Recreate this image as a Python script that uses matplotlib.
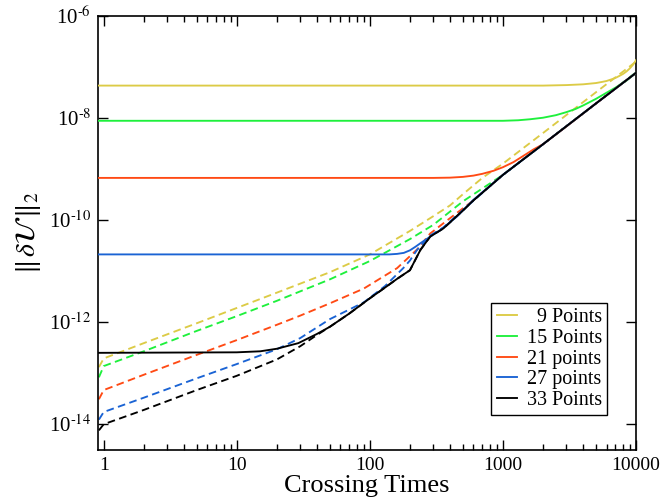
import numpy as np
import matplotlib
matplotlib.use("Agg")
import matplotlib.pyplot as plt
from matplotlib.ticker import FixedLocator, FixedFormatter, NullFormatter, NullLocator

plt.rcParams['font.family'] = ['Liberation Serif', 'DejaVu Serif']
plt.rcParams['mathtext.fontset'] = 'stix'
plt.rcParams['axes.unicode_minus'] = False
plt.rcParams['lines.scale_dashes'] = False

# ---- data: crossing times and log10 of the L2 error ----
# solid curves
t_9s = [0.92, 100, 1000, 2000, 3000, 4000, 5000, 5500, 6000, 6500, 7000, 7500, 8000, 8500, 9000, 9500, 10000]
e_9s = [-7.37, -7.37, -7.37, -7.37, -7.36, -7.345, -7.32, -7.30, -7.28, -7.25, -7.22, -7.18, -7.14,
        -7.09, -7.03, -6.96, -6.87]

t_15s = [0.92, 1000, 1300, 1600, 2000, 2500, 3000, 3500, 4000, 5000, 6000, 7000, 8500, 10000]
e_15s = [-8.06, -8.06, -8.05, -8.03, -8.00, -7.95, -7.89, -7.83, -7.76, -7.63, -7.51, -7.41, -7.27, -7.12]

t_21s = [0.92, 300, 400, 500, 600, 700, 850, 1000, 1200, 1400, 1700, 2000, 3000, 5000, 10000]
e_21s = [-9.18, -9.18, -9.175, -9.16, -9.135, -9.10, -9.04, -8.97, -8.87, -8.76, -8.62, -8.52, -8.17,
         -7.72, -7.12]

t_27s = [0.92, 100, 140, 160, 180, 200, 220, 240, 270, 300, 340, 450, 600, 1000, 2000, 5000, 10000]
e_27s = [-10.68, -10.68, -10.68, -10.67, -10.65, -10.60, -10.53, -10.46, -10.37, -10.29, -10.20, -9.94,
         -9.61, -9.12, -8.52, -7.72, -7.12]

t_33s = [0.92, 10, 15, 20, 29, 40, 50, 70, 100, 130, 160, 200, 240, 284, 357, 500, 600, 1000, 2000, 5000, 10000]
e_33s = [-12.61, -12.60, -12.58, -12.53, -12.42, -12.24, -12.10, -11.84, -11.54, -11.33, -11.16, -10.99,
         -10.59, -10.33, -10.17, -9.82, -9.62, -9.12, -8.52, -7.72, -7.12]

# dashed curves
t_9d = [0.92, 1, 2, 5, 10, 20, 50, 100, 200, 300, 400, 500, 700, 1000, 2000, 5000, 10000]
e_9d = [-12.89, -12.72, -12.42, -12.03, -11.73, -11.43, -11.03, -10.68, -10.22, -9.93, -9.72, -9.50,
        -9.18, -8.90, -8.30, -7.50, -6.90]

t_15d = [0.92, 1, 2, 5, 10, 20, 50, 100, 200, 300, 500, 1000, 2000, 5000, 10000]
e_15d = [-13.09, -12.87, -12.58, -12.18, -11.89, -11.59, -11.17, -10.81, -10.38, -10.10, -9.64, -9.12,
         -8.52, -7.72, -7.11]

t_21d = [0.92, 1, 2, 5, 10, 20, 30, 50, 90, 160, 225, 284, 400, 600, 1000, 2000, 5000, 10000]
e_21d = [-13.52, -13.34, -13.04, -12.65, -12.36, -12.06, -11.88, -11.64, -11.35, -10.95, -10.59, -10.27,
         -9.97, -9.62, -9.12, -8.52, -7.72, -7.12]

t_27d = [0.92, 1, 2, 5, 10, 20, 30, 50, 90, 130, 178, 200, 225, 284, 357, 500, 1000, 2000, 5000, 10000]
e_27d = [-13.92, -13.77, -13.49, -13.11, -12.83, -12.54, -12.32, -11.95, -11.62, -11.30, -10.95, -10.80,
         -10.60, -10.31, -10.15, -9.81, -9.12, -8.52, -7.72, -7.12]

t_33d = [0.92, 1, 2, 5, 10, 20, 30, 40, 50, 70, 100, 130, 160, 200, 240, 284, 357, 500, 600, 1000,
         2000, 5000, 10000]
e_33d = [-14.13, -14.01, -13.73, -13.34, -13.06, -12.74, -12.48, -12.26, -12.10, -11.84, -11.54, -11.33,
         -11.16, -10.99, -10.59, -10.33, -10.17, -9.82, -9.62, -9.12, -8.52, -7.72, -7.12]

labels = ["  9 Points", "15 Points", "21 points", "27 points", "33 Points"]
colors = ["#dccb46", "#1ef03c", "#ff4a14", "#1a63d4", "#000000"]

solid = [(t_9s, e_9s), (t_15s, e_15s), (t_21s, e_21s), (t_27s, e_27s), (t_33s, e_33s)]
dashed = [(t_9d, e_9d), (t_15d, e_15d), (t_21d, e_21d), (t_27d, e_27d), (t_33d, e_33d)]

x_ticks = [1, 10, 100, 1000, 10000]
x_ticklabels = ["1", "10", "100", "1000", "10000"]
y_ticks = [1e-14, 1e-12, 1e-10, 1e-8, 1e-6]
y_ticklabels = [r"$\mathdefault{10^{\text{-14}}}$", r"$\mathdefault{10^{\text{-12}}}$",
                r"$\mathdefault{10^{\text{-10}}}$", r"$\mathdefault{10^{\text{-8}}}$",
                r"$\mathdefault{10^{\text{-6}}}$"]

fig = plt.figure(figsize=(6.6, 5.04), dpi=100)
ax = fig.add_axes([0.1485, 0.1071, 0.8152, 0.8617])
ax.set_xscale('log')
ax.set_yscale('log')

lw = 1.35
for (t, e), c in zip(dashed, colors):
    ax.plot(t, 10.0 ** np.asarray(e), color=c, lw=lw, dashes=(5.5, 3.2), zorder=2)
for (t, e), c, lab in zip(solid, colors, labels):
    ax.plot(t, 10.0 ** np.asarray(e), color=c, lw=lw, label=lab, zorder=3)

ax.set_xlim(0.906, 10000)
ax.set_ylim(3.05e-15, 1e-6)

ax.xaxis.set_major_locator(FixedLocator(x_ticks))
ax.xaxis.set_major_formatter(FixedFormatter(x_ticklabels))
minor_x = [m * 10 ** k for k in range(0, 4) for m in range(2, 10)]
ax.xaxis.set_minor_locator(FixedLocator(minor_x))
ax.xaxis.set_minor_formatter(NullFormatter())
ax.yaxis.set_major_locator(FixedLocator(y_ticks))
ax.yaxis.set_major_formatter(FixedFormatter(y_ticklabels))
ax.yaxis.set_minor_locator(NullLocator())

ax.tick_params(which='both', direction='in', top=True, right=True, width=1.0, color='black')
ax.tick_params(which='major', length=7, labelsize=14, pad=5)
ax.tick_params(axis='y', which='major', labelsize=15)
ax.tick_params(which='minor', length=4)
for sp in ax.spines.values():
    sp.set_linewidth(1.2)

ax.set_xlabel("Crossing Times", fontsize=19, labelpad=1)
ax.set_ylabel(r"$\Vert\,\delta\mathcal{U}\,\Vert_2$", fontsize=20, labelpad=4)

leg = ax.legend(loc='upper right', bbox_to_anchor=(607 / 660, 1 - 303 / 504),
                bbox_transform=fig.transFigure, fontsize=14.5, frameon=True, fancybox=False,
                edgecolor='black', framealpha=1, borderpad=0.25, labelspacing=0.08,
                handlelength=1.0, handletextpad=0.5, borderaxespad=0)
leg.get_frame().set_linewidth(1.0)

fig.savefig("out.png", dpi=100)
